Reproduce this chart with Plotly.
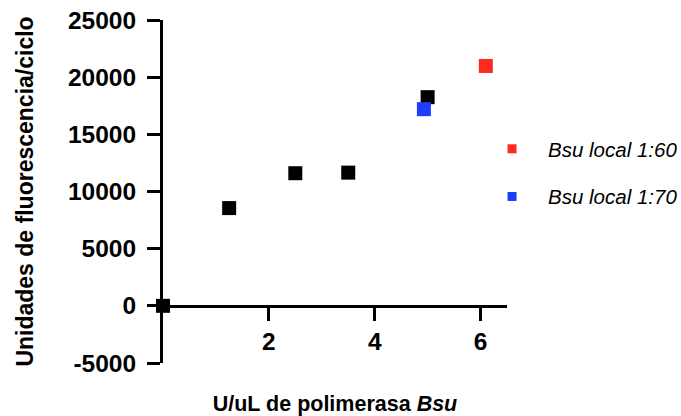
import plotly.graph_objects as go

# Data
x_black = [0, 1.25, 2.5, 3.5, 5.0]
y_black = [0, 8550, 11600, 11650, 18250]
x_red = [6.1]
y_red = [20980]
x_blue = [4.93]
y_blue = [17200]

legend_labels = ["<i>Bsu local 1:60</i>", "<i>Bsu local 1:70</i>"]
x_ticks = [2, 4, 6]
y_ticks = [-5000, 0, 5000, 10000, 15000, 20000, 25000]
y_tick_text = ["-5000", "0", "5000", "10000", "15000", "20000", "25000"]

RED = "#FF2A1E"
BLUE = "#1F3DFF"
FONT = "Liberation Sans, Arial, Helvetica, sans-serif"

fig = go.Figure()
fig.add_trace(go.Scatter(x=x_black, y=y_black, mode="markers",
                         marker=dict(symbol="square", size=14, color="black"),
                         showlegend=False, cliponaxis=False))
fig.add_trace(go.Scatter(x=x_blue, y=y_blue, mode="markers",
                         marker=dict(symbol="square", size=14, color=BLUE),
                         showlegend=False, cliponaxis=False))
fig.add_trace(go.Scatter(x=x_red, y=y_red, mode="markers",
                         marker=dict(symbol="square", size=14, color=RED),
                         showlegend=False, cliponaxis=False))
# legend entries (smaller symbols as in the reference)
fig.add_trace(go.Scatter(x=[None], y=[None], mode="markers", name=legend_labels[0],
                         marker=dict(symbol="square", size=9, color=RED),
                         legendgroup="a"))
fig.add_trace(go.Scatter(x=[None], y=[None], mode="markers", name=legend_labels[1],
                         marker=dict(symbol="square", size=9, color=BLUE),
                         legendgroup="b"))

axis_common = dict(showline=True, linewidth=3, linecolor="black",
                   ticks="outside", ticklen=13, tickwidth=3, tickcolor="black",
                   showgrid=False, zeroline=False, layer="below traces",
                   automargin=False,
                   tickfont=dict(family=FONT, size=24.5, color="black", weight="bold"))

fig.update_layout(
    width=681, height=416,
    margin=dict(l=163, r=174, t=20, b=53, autoexpand=False),
    paper_bgcolor="white", plot_bgcolor="white",
    font=dict(family=FONT, color="black"),
    xaxis=dict(range=[0, 6.5], tickvals=x_ticks, anchor="free", position=1/6,
               ticklabelstandoff=0,
               title=dict(text="<b>U/uL de polimerasa <i>Bsu</i></b>",
                          font=dict(family=FONT, size=21.5, color="black"),
                          standoff=46),
               **axis_common),
    yaxis=dict(range=[-5000, 25000], tickvals=y_ticks, ticktext=y_tick_text,
               domain=[0, 1], ticklabelstandoff=6,
               title=dict(text="<b>Unidades de fluorescencia/ciclo</b>",
                          font=dict(family=FONT, size=23, color="black"),
                          standoff=28),
               **axis_common),
    legend=dict(x=0.910, xanchor="left", y=0.554, yanchor="middle",
                itemwidth=62, traceorder="grouped", tracegroupgap=18,
                font=dict(family=FONT, size=20.5, color="black"),
                bgcolor="rgba(0,0,0,0)"),
)

fig.write_html("out.html")
